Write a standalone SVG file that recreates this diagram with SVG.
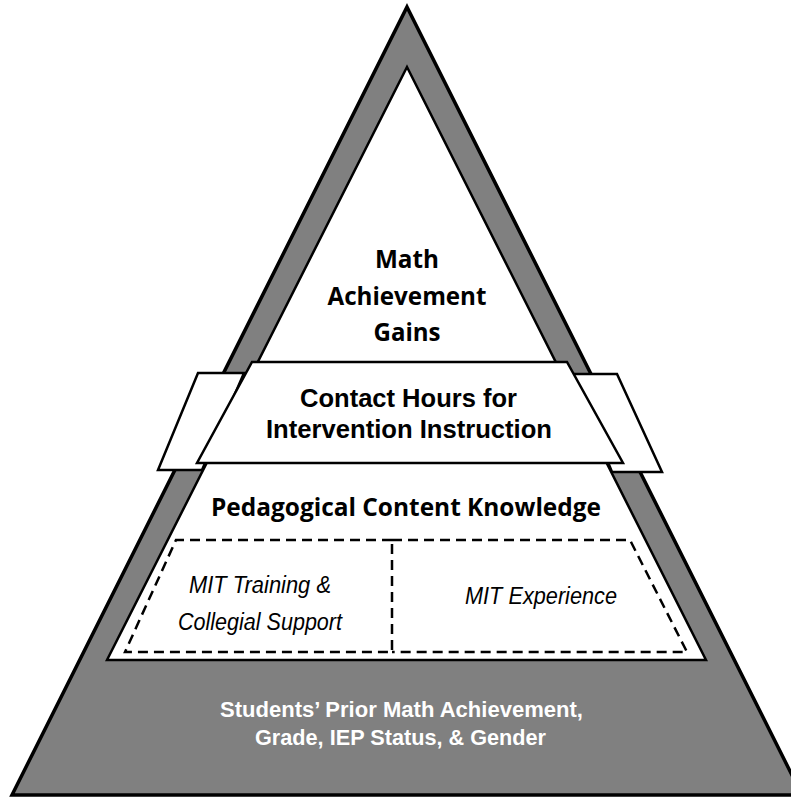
<svg xmlns="http://www.w3.org/2000/svg" width="791" height="797" viewBox="0 0 791 797">
<style>
.frame{fill:#808080;stroke:#000;stroke-width:3.5;stroke-linejoin:miter}
.white{fill:#fff;stroke:#000;stroke-width:2.5;stroke-linejoin:miter}
.dash{fill:none;stroke:#000;stroke-width:2.5;stroke-dasharray:10 6}
.cal{font-family:"Open Sans","Noto Sans",sans-serif;font-weight:bold;fill:#000;text-anchor:middle}
.ari{font-family:"Liberation Sans",Arial,sans-serif;font-weight:bold;fill:#000;text-anchor:middle}
.ital{font-family:"Liberation Sans",Arial,sans-serif;font-style:italic;fill:#000;text-anchor:middle}
.base{font-family:"Liberation Sans",Arial,sans-serif;font-weight:bold;fill:#fff;text-anchor:middle}
</style>
<rect width="791" height="797" fill="#fff"/>
<g id="pyramid-frame">
<polygon class="frame" points="407,7 802,795 12,795"/>
</g>
<g id="band-flaps">
<polygon class="white" points="198,373 244,373 202,470 158,470"/>
<polygon class="white" points="572,374 617,374 662,472 612,472"/>
</g>
<g id="inner">
<polygon class="white" points="407,67 706,660 107,660"/>
</g>
<g id="math-gains">
<text class="cal" font-size="24.5" x="407" y="268" textLength="64" lengthAdjust="spacingAndGlyphs">Math</text>
<text class="cal" font-size="24.5" x="407" y="305" textLength="159" lengthAdjust="spacingAndGlyphs">Achievement</text>
<text class="cal" font-size="24.5" x="407" y="341" textLength="67" lengthAdjust="spacingAndGlyphs">Gains</text>
</g>
<g id="contact-hours">
<polygon class="white" points="252,362 567,362 623,463 197,463"/>
<text class="ari" font-size="26" x="408.5" y="407" textLength="217" lengthAdjust="spacingAndGlyphs">Contact Hours for</text>
<text class="ari" font-size="26" x="409" y="438" textLength="286" lengthAdjust="spacingAndGlyphs">Intervention Instruction</text>
</g>
<g id="pck">
<text class="cal" font-size="25.5" x="406" y="516" textLength="390" lengthAdjust="spacingAndGlyphs">Pedagogical Content Knowledge</text>
</g>
<g id="mit-training">
<path class="dash" d="M392,540 L176,540 L125,652 L392,652 Z"/>
<text class="ital" font-size="24.5" x="260" y="593" textLength="142" lengthAdjust="spacingAndGlyphs">MIT Training &amp;</text>
<text class="ital" font-size="24.5" x="260" y="630" textLength="164" lengthAdjust="spacingAndGlyphs">Collegial Support</text>
</g>
<g id="mit-experience">
<path class="dash" d="M392,540 L630,540 L687,652 L392,652"/>
<text class="ital" font-size="24.5" x="541" y="604" textLength="152" lengthAdjust="spacingAndGlyphs">MIT Experience</text>
</g>
<g id="student-factors">
<text class="base" font-size="22.5" x="401.5" y="717" textLength="363" lengthAdjust="spacingAndGlyphs">Students’ Prior Math Achievement,</text>
<text class="base" font-size="22.5" x="400.5" y="745" textLength="291" lengthAdjust="spacingAndGlyphs">Grade, IEP Status, &amp; Gender</text>
</g>
<g id="connectors"/>
</svg>
